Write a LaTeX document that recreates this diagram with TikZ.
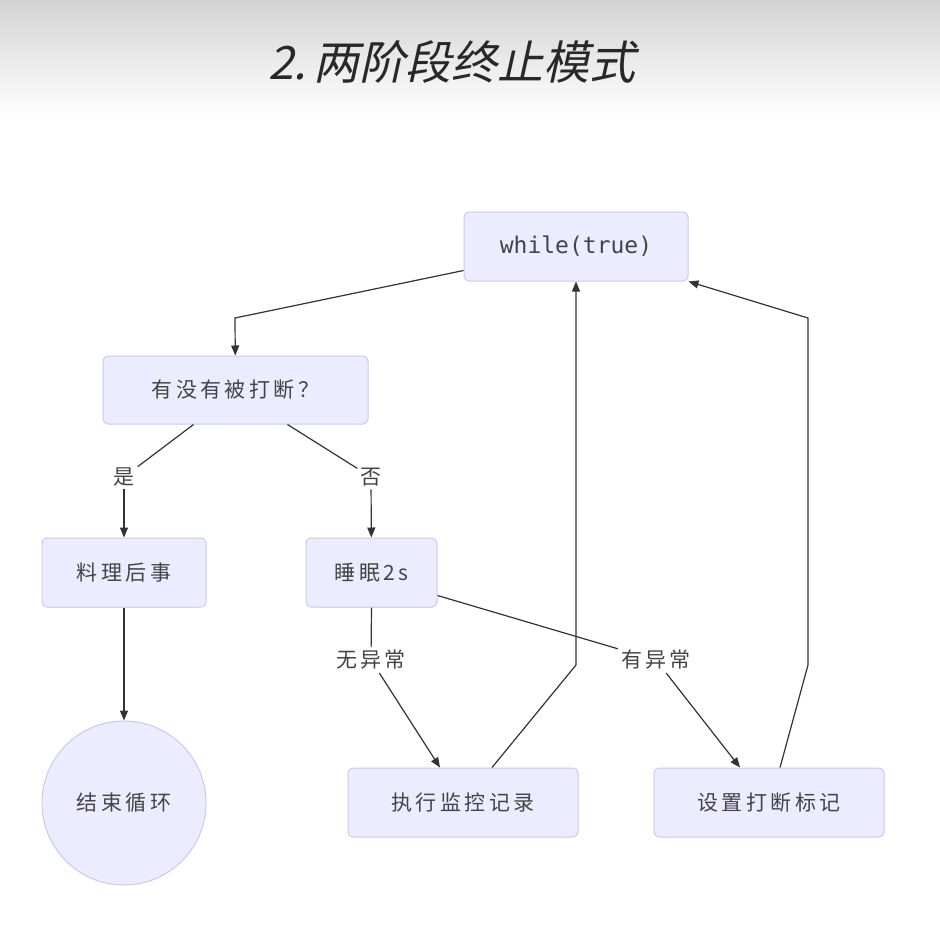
\documentclass[tikz,border=0pt]{standalone}
\usepackage{fontspec}
\usetikzlibrary{arrows.meta}
\newfontfamily\cjk[LetterSpace=16]{Noto Sans CJK SC}
\newfontfamily\titlefont[FakeSlant=0.22]{Noto Sans CJK SC}
\newfontfamily\codefont{DejaVu Sans Mono}
\definecolor{nodefill}{HTML}{ECECFF}
\definecolor{nodeline}{HTML}{C9C9F0}
\definecolor{txt}{HTML}{444444}
\definecolor{edgecol}{HTML}{333333}
\begin{document}
\begin{tikzpicture}[x=1pt,y=-1pt,
  box/.style={draw=nodeline,fill=nodefill,line width=1pt,rounded corners=5pt,
    text=txt,font=\cjk\fontsize{21}{25}\selectfont,anchor=center},
  endcircle/.style={circle,draw=nodeline,fill=nodefill,line width=1pt,
    text=txt,font=\cjk\fontsize{21}{25}\selectfont,minimum size=164pt,inner sep=0pt},
  lbl/.style={fill=white,text=txt,font=\cjk\fontsize{21}{25}\selectfont,inner sep=3pt},
  edge/.style={draw=edgecol,line width=1.2pt},
  arr/.style={edge,-{Triangle[length=10pt,width=8pt]}}]
  % page and header band
  \useasboundingbox (0,0) rectangle (940,932);
  \fill[white] (0,0) rectangle (940,932);
  \shade[top color={rgb,255:red,211;green,211;blue,211},bottom color=white] (0,0) rectangle (940,115);
  \node[text={rgb,255:red,40;green,40;blue,40},font=\titlefont\fontsize{46}{52}\selectfont] (title) at (452,62) {2.\,两阶段终止模式};

  % flow nodes
  \node[box,minimum width=224pt,minimum height=69pt] (loop) at (576,246.5) {\codefont\fontsize{23}{26}\selectfont while(true)};
  \node[box,minimum width=265pt,minimum height=68pt] (ask) at (235.5,390) {有没有被打断？};
  \node[box,minimum width=164pt,minimum height=69pt] (cleanup) at (124,572.5) {料理后事};
  \node[box,minimum width=131pt,minimum height=69pt] (sleep) at (371.5,572.5) {睡眠2s};
  \node[endcircle] (finish) at (124,803) {结束循环};
  \node[box,minimum width=230pt,minimum height=69pt] (record) at (463,802.5) {执行监控记录};
  \node[box,minimum width=230pt,minimum height=69pt] (flag) at (769,802.5) {设置打断标记};

  % edge labels
  \node[lbl] (yes) at (124,477) {是};
  \node[lbl] (no) at (371,477) {否};
  \node[lbl] (noexc) at (371,660) {无异常};
  \node[lbl] (exc) at (656,660) {有异常};

  % bends
  \coordinate (b1) at (235,318);
  \coordinate (b2) at (576,665);
  \coordinate (b3) at (808,665);
  \coordinate (b4) at (808,318);

  % connectors
  \draw[arr] ([yshift=-24pt]loop.west) -- (b1) -- (ask);
  \draw[edge] ([xshift=-42pt]ask.south) -- (yes);
  \draw[arr] (yes) -- (cleanup);
  \draw[edge] ([xshift=52pt]ask.south) -- (no);
  \draw[arr] (no) -- (sleep);
  \draw[arr] (cleanup) -- (finish);
  \draw[edge] (sleep.south) -- (noexc);
  \draw[arr] (noexc) -- ([xshift=-23pt]record.north);
  \draw[edge] ([yshift=-23pt]sleep.east) -- (exc);
  \draw[arr] (exc) -- ([xshift=-29pt]flag.north);
  \draw[arr] ([xshift=29pt]record.north) -- (b2) -- (loop);
  \draw[arr] ([xshift=11pt]flag.north) -- (b3) -- (b4) -- (loop.south east);
\end{tikzpicture}
\end{document}
